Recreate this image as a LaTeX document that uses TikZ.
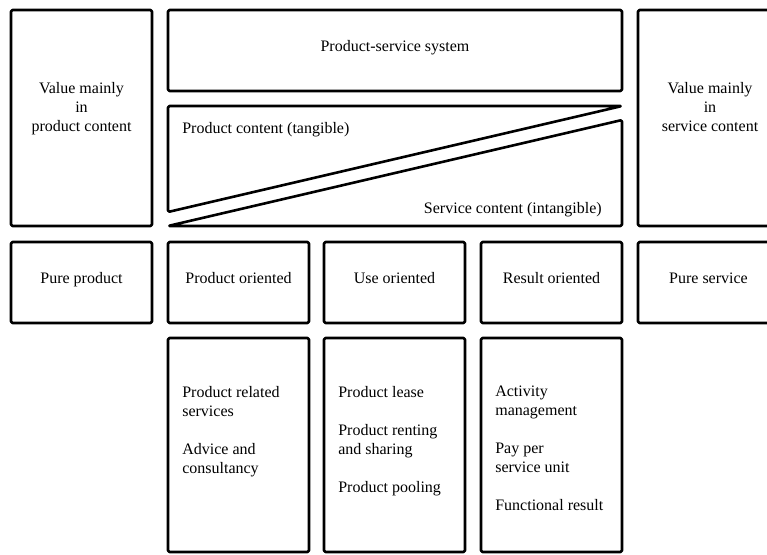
\documentclass[tikz,border=0pt]{standalone}
\usepackage{fontspec}
\setmainfont{Liberation Serif}
\usetikzlibrary{positioning}

\begin{document}
\begin{tikzpicture}[x=1pt,y=-1pt,line width=2.6pt,line join=round,
		every node/.style={font=\fontsize{16}{19}\selectfont,inner sep=0pt},
		box/.style={draw=black,rounded corners=1.5pt},
		cell/.style={box,minimum width=141pt,minimum height=81pt,text height=11pt,text depth=10pt},
		col/.style={box,minimum width=141pt,minimum height=214pt},
		side/.style={box,minimum width=141pt,minimum height=216pt}]
			\useasboundingbox (0,0) rectangle (767,554);
			\clip (0,0) rectangle (767,554);

			% top band
			\node[side] (n1) at (81.5,118) {};
			\node[box,minimum width=454pt,minimum height=81pt,text height=11pt,text depth=10pt] (n2) at (395,50.5) {Product-service system};
			\node[side] (n3) at (708.5,118) {};
			\node[anchor=north,align=center] (t1) at (81.5,81) {Value mainly\\in\\product content};
			\node[anchor=north,align=center] (t2) at (710,81) {Value mainly\\in\\service content};

			% the two wedges
			\draw[box] (168,106) -- (622,106) -- (168,212) -- cycle;
			\draw[box] (168,226) -- (622,120) -- (622,226) -- cycle;
			\node[anchor=base west] (t3) at (181,133) {Product content (tangible)};
			\node[anchor=base east] (t4) at (603,213) {Service content (intangible)};

			% categories
			\node[cell] (n4) at (81.5,282.5) {Pure product};
			\node[cell] (n5) at (238.5,282.5) {Product oriented};
			\node[cell] (n6) at (394.5,282.5) {Use oriented};
			\node[cell] (n7) at (551.5,282.5) {Result oriented};
			\node[cell] (n8) at (708.5,282.5) {Pure service};

			% business models
			\node[col] (n9) at (238.5,445) {};
			\node[col] (n10) at (394.5,445) {};
			\node[col] (n11) at (551.5,445) {};
			\node[anchor=north west,align=left] (t5) at (181,385) {Product related\\services\\[19pt]Advice and\\consultancy};
			\node[anchor=north west,align=left] (t6) at (337,385) {Product lease\\[19pt]Product renting\\and sharing\\[19pt]Product pooling};
			\node[anchor=north west,align=left] (t7) at (494,385) {Activity\\management\\[19pt]Pay per\\service unit\\[19pt]Functional result};
		\end{tikzpicture}
\end{document}
